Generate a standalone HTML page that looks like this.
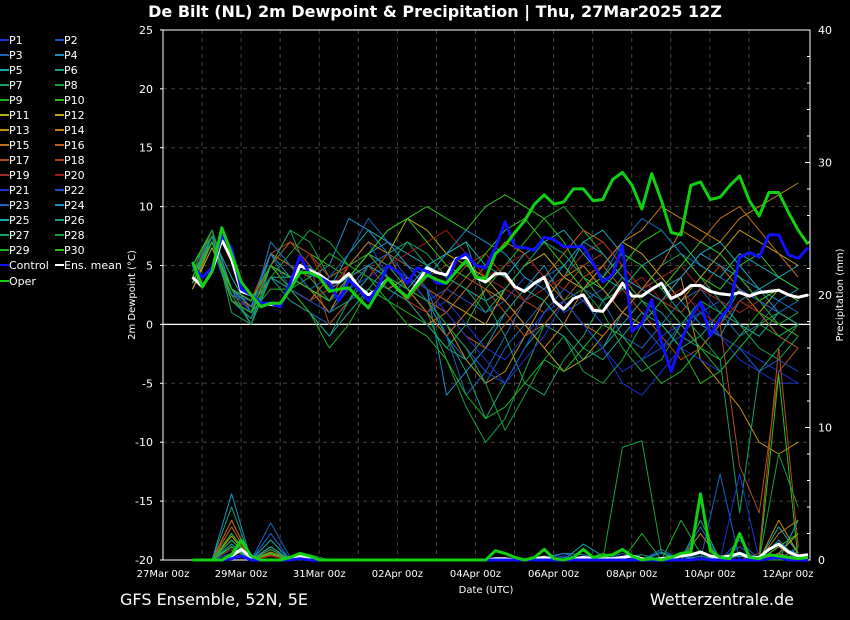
<!DOCTYPE html>
<html><head><meta charset="utf-8"><style>
body{margin:0;background:#000;width:850px;height:620px;overflow:hidden}
svg{display:block;font-family:"DejaVu Sans","Liberation Sans",sans-serif}
</style></head><body>
<svg id="c" width="850" height="620" viewBox="0 0 850 620">
<rect width="850" height="620" fill="#000"/>
<text x="435" y="17" fill="#fff" font-size="16" font-weight="bold" text-anchor="middle">De Bilt  (NL)  2m Dewpoint &amp; Precipitation | Thu, 27Mar2025 12Z</text>
<text x="120" y="605" fill="#fff" font-size="16">GFS Ensemble, 52N, 5E</text>
<text x="794" y="605" fill="#fff" font-size="16" text-anchor="end">Wetterzentrale.de</text>
<text x="486" y="593" fill="#fff" font-size="10" text-anchor="middle">Date (UTC)</text>
<text transform="translate(135,295) rotate(-90)" fill="#fff" font-size="10" text-anchor="middle">2m Dewpoint (°C)</text>
<text transform="translate(843,295) rotate(-90)" fill="#fff" font-size="10" text-anchor="middle">Precipitation (mm)</text>
<g id="grid"></g><g id="axes"></g><g id="series"></g><g id="legend"></g>
</svg>
<script>
const dateLabels=["27Mar 00z","29Mar 00z","31Mar 00z","02Apr 00z","04Apr 00z","06Apr 00z","08Apr 00z","10Apr 00z","12Apr 00z"];
const yTicks=[25,20,15,10,5,0,-5,-10,-15,-20];
const y2Ticks=[40,30,20,10,0];
// 6-hourly series starting 27Mar 12z
const ensMean=[4.0,3.2,4.5,7.2,5.5,2.8,2.5,1.8,1.7,1.6,3.2,5.0,4.6,4.2,3.6,3.6,4.3,3.2,2.5,3.0,3.9,3.0,2.3,3.5,4.8,4.4,4.2,5.6,5.7,4.0,3.6,4.3,4.3,3.2,2.8,3.5,4.0,2.0,1.3,2.2,2.5,1.2,1.1,2.2,3.5,2.4,2.4,3.0,3.5,2.2,2.6,3.3,3.3,2.8,2.6,2.5,2.7,2.4,2.7,2.8,2.9,2.5,2.3,2.5];
const control=[5.0,4.0,4.8,7.5,6.5,3.0,2.5,1.8,1.8,1.5,3.5,5.8,4.3,4.0,3.5,2.0,3.8,3.0,2.0,3.2,5.0,4.5,3.5,4.8,4.5,3.5,3.5,5.5,6.0,5.0,4.8,6.5,8.7,6.6,6.5,6.3,7.4,7.2,6.6,6.6,6.6,5.2,3.6,4.2,6.7,-0.6,0.1,2.1,-1.5,-4.0,-1.5,0.6,1.9,-1.0,0.5,1.5,5.7,6.1,5.7,7.6,7.6,5.9,5.6,6.5];
const oper=[5.3,3.2,4.5,8.2,6.0,3.6,2.5,1.5,1.8,1.8,3.0,4.4,4.4,4.0,2.8,3.0,3.1,2.2,1.4,2.8,3.9,3.0,2.3,3.3,4.2,3.8,3.5,4.5,5.4,4.0,3.9,6.0,6.7,7.8,8.8,10.2,11.0,10.2,10.4,11.5,11.5,10.5,10.6,12.3,12.9,11.8,9.8,12.8,10.5,7.8,7.6,11.8,12.1,10.6,10.8,11.8,12.6,10.5,9.2,11.2,11.2,9.5,8.0,6.8];
const precipMean=[0,0,0,0,0.3,0.8,0.2,0,0,0,0.2,0.3,0.1,0,0,0,0,0,0,0,0,0,0,0,0,0,0,0,0,0,0,0.1,0.1,0,0,0.1,0.2,0,0,0.1,0.2,0.1,0.1,0.1,0.2,0.3,0.1,0,0.1,0.2,0.3,0.4,0.6,0.3,0.2,0.3,0.5,0.2,0.2,0.8,1.2,0.6,0.3,0.4];
const precipControl=[0,0,0,0,0.1,0.3,0,0,0,0,0,0.1,0,0,0,0,0,0,0,0,0,0,0,0,0,0,0,0,0,0,0,0,0,0,0,0,0,0,0,0,0,0,0,0,0,0,0,0,0,0,0,0,0.1,0,0,0,0,0,0,0.1,0.2,0,0,0];
const precipOper=[0,0,0,0,0.4,1.5,0.3,0,0,0,0.2,0.5,0.3,0,0,0,0,0,0,0,0,0,0,0,0,0,0,0,0,0,0,0.7,0.5,0.2,0,0.2,0.8,0.1,0,0.2,0.8,0.2,0.3,0.4,0.8,0.3,0,0.1,0,0.2,0.5,0.6,5.0,0.7,0.2,0.1,2.0,0.2,0.1,0.4,0.3,0.2,0.1,0.2];
// 12-hourly perturbation dewpoints
const P=[
[4,7,2,1.5,5,3,2,3,5,7,4,3,1,2,0,-2,-3,-1,1,2,0,-2,-4,-3,-1,0,2,-1,-3,-4,-5,-5],
[3.5,7,3,2,4,4,3,2,4,6,5,3,2,3,2,1,2,4,3,1,2,3,1,0,-2,-1,1,2,0,-1,1,0],
[3,6.5,2,0.5,6,3,1,0,2,3,2,4,3,-1,-3,-5,-2,0,2,4,3,2,-1,-2,0,2,3,1,-1,0,2,1],
[4,8,3,1,7,5,4,5,9,8,6,5,3,-6,-4,-2,1,3,5,2,0,-2,1,3,4,2,0,-1,2,3,1,0],
[3.5,7.5,4,1,5,7,6,3,6,8,7,6,5,4,3,2,3,5,6,4,7,8,6,5,3,4,6,7,5,3,4,3],
[4,7,2,0.5,4,2,1,-1,1,3,5,4,2,-1,-4,-8,-5,-2,0,-1,-3,-2,0,2,1,-1,-2,0,3,1,-1,0],
[5,8,1,0,4,4,3,1,2,5,6,7,5,6,7,2,-1,-5,-6,-3,-1,2,4,3,5,6,4,2,0,-2,-3,-1],
[4.5,7,3,2,5,8,7,4,5,6,5,3,1,-3,-7,-10,-8,-4,0,2,3,1,-2,-4,-3,0,2,1,3,2,0,1],
[4,7.5,2,1,3,3,4,6,5,4,2,1,0,-2,0,3,5,7,9,10,8,6,4,2,0,-2,-5,-4,-2,0,1,0],
[5,8,3,1.5,5,4,6,5,4,6,8,9,10,9,8,10,11,10,9,7,4,3,5,7,8,6,4,3,5,6,4,3],
[3,6.5,3,2,5,4,3,2,3,5,6,9,8,6,5,4,2,0,-2,-4,-3,-1,1,3,2,0,-2,0,2,1,3,2],
[3.5,7,2.5,2,6,5,3,1,4,5,3,4,3,2,1,0,3,5,6,4,3,5,7,6,4,2,4,6,8,7,6,5],
[3,7,2,1,5,3,2,3,4,6,5,4,2,0,-3,-5,-4,-1,2,4,5,3,1,0,2,4,-3,-5,-7,-10,-11,-10],
[4,7.5,3,1.5,4,3,2,4,5,7,6,3,1,-1,1,3,2,0,-2,0,3,5,7,8,10,9,8,7,9,10,11,12],
[3.5,7,2,1,5,4,3,1,3,5,4,2,0,1,3,5,7,6,4,2,0,-1,1,3,5,8,7,9,10,8,6,4],
[4,7,3,2,6,5,4,2,5,6,4,3,2,1,-1,-2,0,2,4,6,8,7,5,3,2,4,6,5,3,1,-1,-2],
[3.5,7,2.5,1.5,5,7,5,0,2,4,6,5,3,2,4,3,1,-1,0,2,4,5,3,1,-1,-3,-2,0,-12,-16,-4,-2],
[4,8,3,2,6,7,6,4,5,6,4,2,1,3,5,6,4,2,1,3,5,6,4,3,2,1,3,5,4,2,1,0],
[3.5,7,2,1,5,3,2,3,4,5,3,2,4,5,6,4,3,2,3,4,6,7,5,3,4,5,3,2,1,2,3,2],
[4,7,2,1.5,5,4,6,3,5,6,5,6,7,8,6,4,5,6,4,3,2,1,3,4,2,3,1,0,2,1,0,-1],
[4,7.5,3,1,5,4,3,2,3,4,5,4,3,1,-1,-3,-5,-3,-1,2,0,-2,-5,-6,-4,-2,-3,-4,-2,-3,-4,-5],
[3.5,7,2.5,2,4,3,2,1,3,5,6,4,2,0,-2,-4,-5,-2,1,3,2,0,-1,-3,-2,0,1,-1,-2,-4,-3,-4],
[4,7,2,1,7,5,3,4,6,9,7,5,3,-1,-6,-4,-1,2,4,5,3,4,7,9,8,6,5,4,3,2,1,2],
[3.5,7,3,1.5,6,4,5,3,4,6,7,5,4,6,8,7,6,4,3,5,7,6,4,3,2,4,6,5,4,3,2,3],
[4,7.5,2,1,5,4,3,2,4,5,4,3,5,6,7,5,4,6,7,8,6,4,3,5,6,7,5,4,6,5,4,5],
[4,7,2.5,0,4,3,1,-1,2,4,3,2,0,-2,-3,-1,1,3,2,0,-2,-3,-1,1,0,-2,-1,1,0,-1,1,0],
[4.5,8,3,0,5,8,4,2,4,6,5,7,6,4,3,1,3,5,7,6,4,2,3,5,3,1,-1,-3,-16,-4,-2,0],
[5,7.5,2,1,4,6,8,7,5,6,4,3,2,0,-2,-5,-9,-6,-3,-1,-4,-5,-3,0,2,0,-2,-4,-2,0,-1,0],
[4,7,2,1,5,3,1,-2,0,3,2,0,-1,-3,-6,-8,-7,-5,-3,-4,-2,0,-1,-3,-5,-4,-2,-3,-1,1,0,-1],
[3.5,7,3,2,5,4,3,2,4,6,8,9,7,5,4,6,8,9,7,5,3,4,6,5,3,5,7,6,4,2,3,2]];
// 12-hourly perturbation precipitation (mm)
const PP=[
[0,0,1,0,0.5,0,0,0,0,0,0,0,0,0,0,0,0,0,0,0,0,0.2,0,0,0.5,0,0,0,0,0,0.3,0],
[0,0,0.8,0,2,0,0,0,0,0,0,0,0,0,0,0,0,0,0,0,0,0,0.3,0,0,0,0.5,0,0,0,0.4,0],
[0,0,1.5,0,2.8,0.2,0,0,0,0,0,0,0,0,0,0,0,0,0,0.2,0,0,0,0,0.8,0,0,6.5,0,0,0.5,0],
[0,0,1,0,2,0,0,0,0,0,0,0,0,0,0,0,0,0,0.2,0.5,0.4,0,0,0,0.6,0,2,0,0.6,0,1,0.5],
[0,0,1.2,0,1,0,0,0,0,0,0,0,0,0,0,0,0,0,0,0,1.2,0.3,0,0,0.2,0,0,0,0.3,0,2.5,0.5],
[0,0,4,0,1.5,0,0,0,0,0,0,0,0,0,0,0,0,0,0.3,0,0.2,0,0,0,0,0,0.3,0,0.5,0,0,1],
[0,0,2,0,1,0,0,0,0,0,0,0,0,0,0,0,0,0,0,0,0,0,0.2,0.4,0,0,0,0,0,0,0,0],
[0,0,1,0,0.5,0,0.4,0,0,0,0,0,0,0,0,0,0,0,0,0,0,0,8.5,9,0.5,0,0,0,0,0,0,0],
[0,0,1.5,0,0,0,0,0,0,0,0,0,0,0,0,0,0,0,0,0,0,0.5,0,0,0,3,0.5,0,0,0,0,0.5],
[0,0,2,0,0.8,0,0,0,0,0,0,0,0,0,0,0,0,0,0,0,0,0,0,0,0,0,0,0,0,0,14,0],
[0,0,1,0,0.5,0,0,0,0,0,0,0,0,0,0,0,0,0,0,0,0,0,0,0,0,0,0,0,0,0,1,0],
[0,0,1.8,0,0.5,0,0,0,0,0,0,0,0,0,0,0,0,0,0,0,0,0,0,0,0,0,0,0,0,0,0.5,2],
[0,0,3,0,0.6,0,0,0,0,0,0,0,0,0,0,0,0,0,0,0,0,0,0,0,0,0,0,0,0,0,3,0.5],
[0,0,2.5,0,0.4,0,0,0,0,0,0,0,0,0,0,0,0,0,0,0,0,0,0,0,0,0,0,0,0,0,2,3],
[0,0,1.5,0,0.8,0,0,0,0,0,0,0,0,0,0,0,0,0,0,0,0,0,0,0,0,0,2,0,0,0,0.5,0],
[0,0,3,0,0.5,0,0,0,0,0,0,0,0,0,0,0,0,0,0,0,0,0,0,0,0,0,0,0,0,0,0,0.5],
[0,0,2.5,0,0.3,0,0,0,0,0,0,0,0,0,0,0,0,0,0,0,0,0,0,0,0,0,0,0,0,0.5,16,1],
[0,0,1,0,1,0,0.1,0,0,0,0,0,0,0,0,0,0,0,0,0,0,0,0,0,0,0,0,0,0,0,1,0],
[0,0,0.8,0,0.5,0,0,0,0,0,0,0,0,0,0,0,0,0,0,0,0,0,0,0,0,0,0,0,0,0,0,0],
[0,0,1,0,0.3,0,0.2,0,0,0,0,0,0,0,0,0,0,0,0,0,0,0,0,0,0,0,0,0,0,0,0,0],
[0,0,0.5,0,0.5,0,0,0,0,0,0,0,0,0,0,0,0,0,0,0,0,0,0,0,0,0,0,0,6.5,0,0,0],
[0,0,1,0,2,0,0,0,0,0,0,0,0,0,0,0,0,0,0,0.3,0,0,0,0,0,0,3,0,1,0,0,0.5],
[0,0,0.5,0,1.5,0,0,0,0,0,0,0,0,0,0,0,0,0,0,0.5,0,0,0.5,0,0,0,2.5,0,1.5,0,0,0],
[0,0,5,0,0.5,0,0,0,0,0,0,0,0,0,0,0,0,0,0,0,0,0.2,0,0,0,0.3,0,0,0,0,1.5,0],
[0,0,1,0,1,0,0,0,0,0,0,0,0,0,0,0,0,0,0,0,0,0,0,0,0,0,0,0,0,0,0,3],
[0,0,1.5,0,1.5,0,0,0,0,0,0,0,0,0,0,0,0,0,0,0,0,0,0,0,0,0,0,0,0,0,0,0],
[0,0,2,0,0.5,0,0,0,0,0,0,0,0,0,0,0,0,0,0,0,0,0,0,0,0,0,3,0,0,0,0,0],
[0,0,1.5,0,0.8,0,0,0,0,0,0,0,0,0,0,0,0,0,0,0,0,0,0,0,0,0,0,0,0,0,8,4],
[0,0,2,0,0.5,0,0,0,0,0,0,0,0,0,0,0,0,0,0,0,0,0,0,2,0,0,0,0,0,0,0,0],
[0,0,1,0,0.5,0,0,0,0,0,0,0,0,0,0,0,0,0,0,0,0,0,0,0,0,0,0,0,0,0,1,2]];
const colors10=['#1a30d0','#1a50c8','#1a64b8','#1a90c0','#18a8b0','#18a080','#18a060','#18a040','#20b020','#30c020','#b0b018','#c0a018','#c09018','#c08018','#c07018','#c06018','#b05018','#b04018','#a02828','#a01818'];
const NS='http://www.w3.org/2000/svg';
const X0=163,X1=810,Y0=30,Y1=560;
function x6(i){return 192.5+i*9.77;}
function x12(k){return 192.5+k*19.54;}
function yL(v){return 324.4-v*11.78;}
function yR(v){return 560-v*13.25;}
function mk(tag,attrs,parent){const e=document.createElementNS(NS,tag);for(const k in attrs)e.setAttribute(k,attrs[k]);parent.appendChild(e);return e;}
const grid=document.getElementById('grid'),axes=document.getElementById('axes'),ser=document.getElementById('series'),leg=document.getElementById('legend');
for(let d=1;d<16;d++){const x=X0+d*39.06;
 const l=mk('line',{x1:x,x2:x,y1:Y0,y2:Y1,stroke:'#444','stroke-dasharray':'4,4','stroke-width':1},grid);
 
 }
yTicks.forEach(v=>{const y=yL(v);
 if(v!==0&&v!==25&&v!==-20){const l=mk('line',{x1:X0,x2:X1,y1:y,y2:y,stroke:'#444','stroke-dasharray':'4,4'},grid);
 
 }
 const t=mk('text',{x:153,y:y+4,fill:'#fff','font-size':11,'text-anchor':'end'},axes);t.textContent=v;
 
 
 mk('line',{x1:X0-3,x2:X0,y1:y,y2:y,stroke:'#fff'},axes);});
y2Ticks.forEach(v=>{const y=yR(v);const t=mk('text',{x:818,y:y+4,fill:'#fff','font-size':11},axes);t.textContent=v;
 
 });
for(let m=0;m<=40;m+=2){const y=yR(m);mk('line',{x1:X1-(m%10?3:5),x2:X1,y1:y,y2:y,stroke:'#fff'},axes);}
dateLabels.forEach((s,i)=>{const x=X0+i*78.12;const t=mk('text',{x:x,y:577,fill:'#fff','font-size':10,'text-anchor':'middle'},axes);t.textContent=s;
 
 });
const zl=mk('line',{x1:X0,x2:X1,y1:yL(0),y2:yL(0),stroke:'#fff','stroke-width':1.3},axes);


const fr=mk('rect',{x:X0,y:Y0,width:X1-X0,height:Y1-Y0,fill:'none',stroke:'#fff','stroke-width':1},axes);


function line(vals,xf,yf,col,w,name){const pts=vals.map((v,i)=>xf(i).toFixed(1)+','+yf(v).toFixed(1)).join(' ');
 const p=mk('polyline',{points:pts,fill:'none',stroke:col,'stroke-width':w,'stroke-linejoin':'round'},ser);
 
 }
P.forEach((a,i)=>line(a,x12,yL,colors10[i%20],1,'dewpoint-p'+(i+1)));
PP.forEach((a,i)=>line(a,x12,yR,colors10[i%20],1,'precip-p'+(i+1)));
line(precipMean,x6,yR,'#fff',3,'precip-ens-mean');
line(precipControl,x6,yR,'#1010ff',3,'precip-control');
line(precipOper,x6,yR,'#10d010',3,'precip-oper');
line(ensMean,x6,yL,'#fff',3,'dewpoint-ens-mean');
line(control,x6,yL,'#1010ff',3,'dewpoint-control');
line(oper,x6,yL,'#10d010',3,'dewpoint-oper');
const names=[];for(let i=1;i<=30;i++)names.push('P'+i);
names.forEach((n,i)=>{const col=i%2,row=Math.floor(i/2);const x=col?55:0,y=40+row*15;
 const g=mk('g',{},leg);
 
 
 mk('line',{x1:x,x2:x+9,y1:y,y2:y,stroke:colors10[i%20],'stroke-width':2},g);
 const t=mk('text',{x:x+9,y:y+4,fill:'#fff','font-size':11},g);t.textContent=n;});
[['Control','#1010ff',0,265],['Ens. mean','#fff',55,265],['Oper','#10d010',0,281]].forEach(e=>{
 const g=mk('g',{},leg);
 
 
 mk('line',{x1:e[2],x2:e[2]+9,y1:e[3],y2:e[3],stroke:e[1],'stroke-width':2},g);
 const t=mk('text',{x:e[2]+9,y:e[3]+4,fill:'#fff','font-size':11},g);t.textContent=e[0];});
</script>
</body></html>
